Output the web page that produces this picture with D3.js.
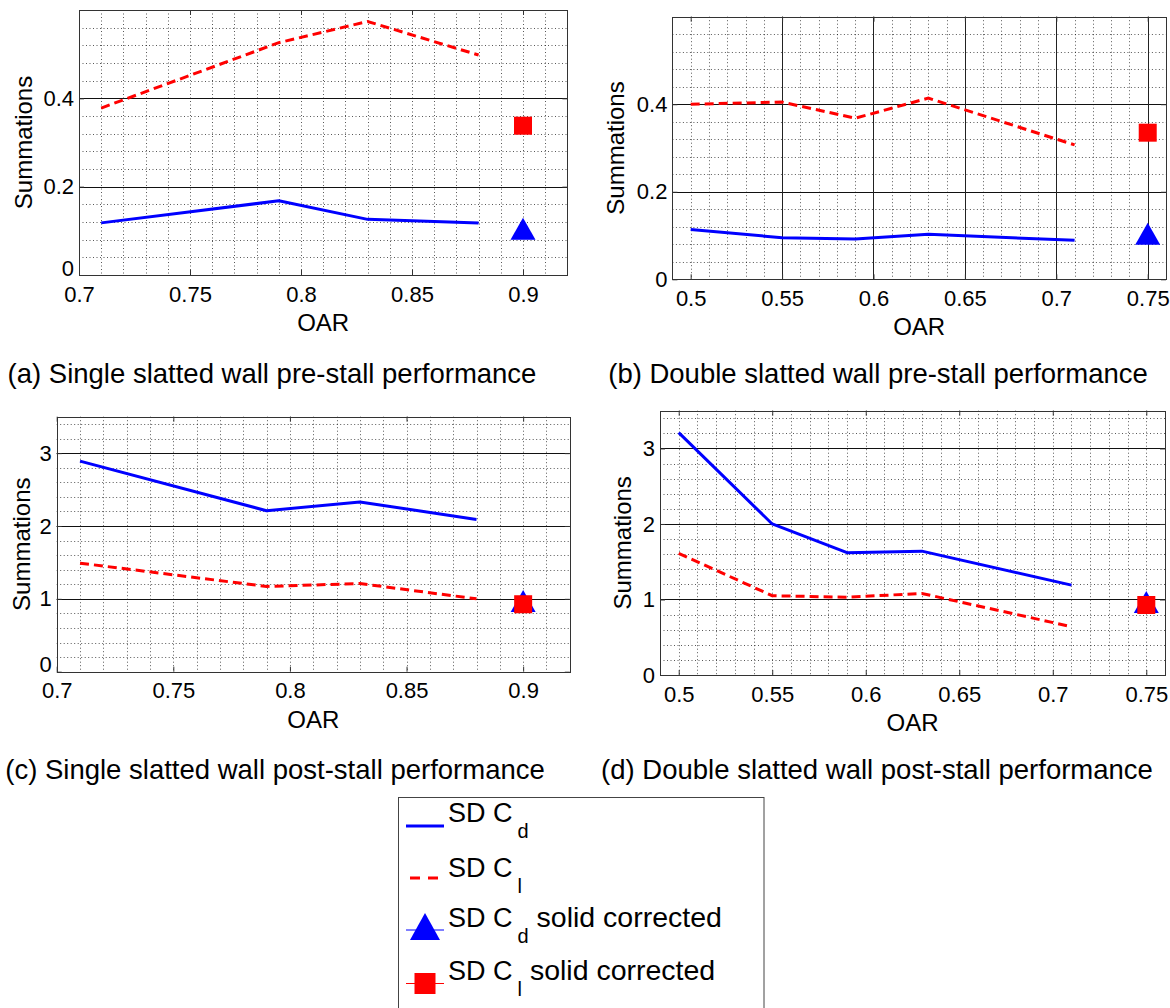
<!DOCTYPE html>
<html>
<head>
<meta charset="utf-8">
<script src="https://cdn.jsdelivr.net/npm/d3@7"></script>
<style>
  body { margin: 0; background: #fff; }
  svg { display: block; }
  text { font-family: "Liberation Sans", Arial, Helvetica, sans-serif; fill: #000; }
</style>
</head>
<body>
<svg id="chart" width="1170" height="1008"></svg>
<script>
// ---- data ----
const oarSingle = [0.71, 0.79, 0.83, 0.88];
const oarDouble = [0.50, 0.55, 0.59, 0.63, 0.71];

const preSingleCd  = [0.118, 0.168, 0.126, 0.118];
const preSingleCl  = [0.378, 0.526, 0.574, 0.498];
const preDoubleCd  = [0.114, 0.095, 0.092, 0.103, 0.089];
const preDoubleCl  = [0.400, 0.405, 0.368, 0.414, 0.307];
const postSingleCd = [2.89, 2.21, 2.33, 2.09];
const postSingleCl = [1.49, 1.17, 1.21, 1.00];
const postDoubleCd = [3.21, 2.00, 1.62, 1.64, 1.19];
const postDoubleCl = [1.61, 1.05, 1.03, 1.08, 0.64];

// solid-corrected single points, one per panel (a, b, c, d)
const solidOAR = [0.90, 0.75, 0.90, 0.75];
const solidCd  = [0.105, 0.104, 0.970, 0.967];
const solidCl  = [0.338, 0.335, 0.926, 0.927];

const xTicksSingle = [0.7, 0.75, 0.8, 0.85, 0.9];
const xTicksDouble = [0.5, 0.55, 0.6, 0.65, 0.7, 0.75];
const yTicksPre  = [0, 0.2, 0.4];
const yTicksPost = [0, 1, 2, 3];

const captions = [
  "(a) Single slatted wall pre-stall performance",
  "(b) Double slatted wall pre-stall performance",
  "(c) Single slatted wall post-stall performance",
  "(d) Double slatted wall post-stall performance"
];

// ---- layout of the four axes ----
const panels = [
  { oar: oarSingle, cd: preSingleCd, cl: preSingleCl, xTicks: xTicksSingle, yTicks: yTicksPre,
    xDomain: [0.7, 0.92], yDomain: [0, 0.6], yMinor: 0.04, vSolid: [], liftZero: true,
    left: 79, right: 567.4, top: 10, bottom: 275, yLabelX: 32, capX: 272, capY: 383 },
  { oar: oarDouble, cd: preDoubleCd, cl: preDoubleCl, xTicks: xTicksDouble, yTicks: yTicksPre,
    xDomain: [0.49, 0.76], yDomain: [0, 0.6], yMinor: 0.04, vSolid: [0.55, 0.6, 0.65, 0.7, 0.75], liftZero: false,
    left: 672.4, right: 1166, top: 16.7, bottom: 279.3, yLabelX: 624, capX: 878, capY: 383 },
  { oar: oarSingle, cd: postSingleCd, cl: postSingleCl, xTicks: xTicksSingle, yTicks: yTicksPost,
    xDomain: [0.7, 0.92], yDomain: [0, 3.5], yMinor: 0.2, vSolid: [], liftZero: true,
    left: 56.7, right: 569.8, top: 416.7, bottom: 671.7, yLabelX: 30, capX: 275, capY: 779 },
  { oar: oarDouble, cd: postDoubleCd, cl: postDoubleCl, xTicks: xTicksDouble, yTicks: yTicksPost,
    xDomain: [0.49, 0.76], yDomain: [0, 3.5], yMinor: 0.2, vSolid: [], liftZero: false,
    left: 660, right: 1165, top: 410.7, bottom: 675, yLabelX: 631, capX: 877, capY: 779 }
];

const BLUE = "#0000ff", RED = "#ff0000";
const svg = d3.select("#chart");
svg.append("rect").attr("width", 1170).attr("height", 1008).attr("fill", "#fff");

function trianglePath(cx, cy, w, h) {
  return `M${cx},${cy - h / 2}L${cx + w / 2},${cy + h / 2}L${cx - w / 2},${cy + h / 2}Z`;
}

panels.forEach((p, i) => {
  const x = d3.scaleLinear().domain(p.xDomain).range([p.left, p.right]);
  const y = d3.scaleLinear().domain(p.yDomain).range([p.bottom, p.top]);
  const g = svg.append("g");
  const px = v => Math.round(v) + 0.5;

  // dotted minor grid, every 0.01 in OAR
  const i0 = Math.round(p.xDomain[0] * 100), i1 = Math.round(p.xDomain[1] * 100);
  const xMinor = d3.range(i0 + 1, i1).map(k => k / 100)
    .filter(v => !p.vSolid.some(s => Math.abs(s - v) < 1e-9));
  g.selectAll(null).data(xMinor).join("line")
    .attr("x1", d => px(x(d))).attr("x2", d => px(x(d)))
    .attr("y1", p.top).attr("y2", p.bottom)
    .attr("stroke", "#000").attr("stroke-width", 1)
    .attr("stroke-dasharray", "1,2.5").attr("opacity", 0.65);

  const nY = Math.round((p.yDomain[1] - p.yDomain[0]) / p.yMinor);
  const yMinor = d3.range(1, nY).filter(k => k % 5 !== 0).map(k => k * p.yMinor);
  g.selectAll(null).data(yMinor).join("line")
    .attr("x1", p.left).attr("x2", p.right)
    .attr("y1", d => px(y(d))).attr("y2", d => px(y(d)))
    .attr("stroke", "#000").attr("stroke-width", 1)
    .attr("stroke-dasharray", "1,2.5").attr("opacity", 0.65);

  // solid major grid
  g.selectAll(null).data(p.yTicks.filter(v => v > 0)).join("line")
    .attr("x1", p.left).attr("x2", p.right)
    .attr("y1", d => px(y(d))).attr("y2", d => px(y(d)))
    .attr("stroke", "#111").attr("stroke-width", 1);
  g.selectAll(null).data(p.vSolid).join("line")
    .attr("x1", d => px(x(d))).attr("x2", d => px(x(d)))
    .attr("y1", p.top).attr("y2", p.bottom)
    .attr("stroke", "#222").attr("stroke-width", 1);

  // axes with inward ticks
  const fmt = d => String(d);
  const xAxis = g.append("g").attr("transform", `translate(0,${p.bottom})`)
    .call(d3.axisBottom(x).tickValues(p.xTicks).tickFormat(fmt)
      .tickSizeInner(-5).tickSizeOuter(0).tickPadding(11));
  const yAxis = g.append("g").attr("transform", `translate(${p.left},0)`)
    .call(d3.axisLeft(y).tickValues(p.yTicks).tickFormat(fmt)
      .tickSizeInner(-5).tickSizeOuter(0).tickPadding(5));
  g.append("g").attr("transform", `translate(0,${p.top})`)
    .call(d3.axisTop(x).tickValues(p.xTicks).tickFormat("").tickSizeInner(-5).tickSizeOuter(0));
  g.append("g").attr("transform", `translate(${p.right},0)`)
    .call(d3.axisRight(y).tickValues(p.yTicks).tickFormat("").tickSizeInner(-5).tickSizeOuter(0));
  g.selectAll(".domain").remove();
  g.selectAll(".tick line").attr("stroke", "#333");
  [xAxis, yAxis].forEach(a => a.selectAll("text")
    .attr("font-size", 22).attr("font-family", "Liberation Sans, Arial, sans-serif").attr("fill", "#000"));
  // where the first OAR label sits right under it, the zero label rests on the axis
  if (p.liftZero) yAxis.selectAll(".tick").filter(d => d === 0).select("text").attr("dy", "0em");

  // box
  g.append("rect")
    .attr("x", px(p.left)).attr("y", px(p.top))
    .attr("width", Math.round(p.right) - Math.round(p.left))
    .attr("height", Math.round(p.bottom) - Math.round(p.top))
    .attr("fill", "none").attr("stroke", "#333").attr("stroke-width", 1);

  // series
  const line = d3.line().x((d, k) => x(p.oar[k])).y(d => y(d));
  g.append("path").datum(p.cd).attr("d", line)
    .attr("fill", "none").attr("stroke", BLUE).attr("stroke-width", 3)
    .attr("stroke-linejoin", "round");
  g.append("path").datum(p.cl).attr("d", line)
    .attr("fill", "none").attr("stroke", RED).attr("stroke-width", 3)
    .attr("stroke-dasharray", "9,5");

  // solid-corrected markers
  g.append("path")
    .attr("d", trianglePath(x(solidOAR[i]), y(solidCd[i]), 25, 22))
    .attr("fill", BLUE);
  const sq = 18;
  g.append("rect")
    .attr("x", x(solidOAR[i]) - sq / 2).attr("y", y(solidCl[i]) - sq / 2)
    .attr("width", sq).attr("height", sq).attr("fill", RED);

  // labels
  g.append("text")
    .attr("transform", `translate(${p.yLabelX},${(p.top + p.bottom) / 2}) rotate(-90)`)
    .attr("text-anchor", "middle").attr("font-size", 24).text("Summations");
  g.append("text")
    .attr("x", (p.left + p.right) / 2).attr("y", p.bottom + 56)
    .attr("text-anchor", "middle").attr("font-size", 24).text("OAR");
  g.append("text")
    .attr("x", p.capX).attr("y", p.capY)
    .attr("text-anchor", "middle").attr("font-size", 27.5).text(captions[i]);
});

// ---- legend ----
const legendItems = [
  { sub: "d", rest: "", color: BLUE, dash: null, marker: null, lw: 3 },
  { sub: "l", rest: "", color: RED, dash: "10,8", marker: null, lw: 3 },
  { sub: "d", rest: " solid corrected", color: BLUE, dash: null, marker: "triangle", lw: 1 },
  { sub: "l", rest: " solid corrected", color: RED, dash: null, marker: "square", lw: 1 }
];
const lg = svg.append("g");
lg.append("rect").attr("x", 398.5).attr("y", 797.5).attr("width", 365.5).attr("height", 230)
  .attr("fill", "#fff").attr("stroke", "#444").attr("stroke-width", 1);

const rowY = [826, 878, 930, 983.5];
const textY = [822, 877, 927, 980];
legendItems.forEach((it, k) => {
  const cy = rowY[k];
  if (it.dash) {
    lg.append("line").attr("x1", 410).attr("x2", 440).attr("y1", cy).attr("y2", cy)
      .attr("stroke", it.color).attr("stroke-width", it.lw).attr("stroke-dasharray", it.dash);
  } else {
    lg.append("line").attr("x1", 406).attr("x2", 444).attr("y1", cy).attr("y2", cy)
      .attr("stroke", it.color).attr("stroke-width", it.lw);
  }
  if (it.marker === "triangle") {
    lg.append("path").attr("d", trianglePath(425, cy - 3.5, 30, 27)).attr("fill", it.color);
  } else if (it.marker === "square") {
    lg.append("rect").attr("x", 425 - 10.5).attr("y", cy - 10.5)
      .attr("width", 21).attr("height", 21).attr("fill", it.color);
  }
  const t = lg.append("text").attr("x", 448).attr("y", textY[k]).attr("font-size", 27);
  t.append("tspan").text("SD C");
  t.append("tspan").attr("dx", 5).attr("dy", 16).attr("font-size", 20).text(it.sub);
  if (it.rest) t.append("tspan").attr("dy", -16).attr("font-size", 28.5).text(it.rest);
});
</script>
</body>
</html>
